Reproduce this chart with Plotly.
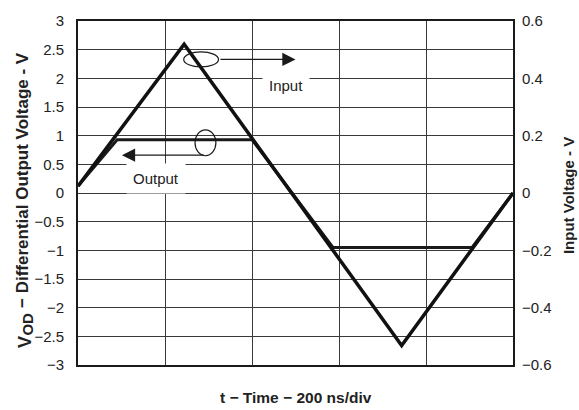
import plotly.graph_objects as go

# Time axis: 0..1000 ns, 200 ns per division
time_input = [0, 244, 744, 1000]            # ns, triangle vertices
input_v = [0.024, 0.519, -0.532, 0.0]       # V (right axis)

time_output = [0, 90, 400, 586, 906, 1000]  # ns
output_v = [0.12, 0.93, 0.93, -0.95, -0.95, 0.0]  # V (left axis)

left_ticks = [-3, -2.5, -2, -1.5, -1, -0.5, 0, 0.5, 1, 1.5, 2, 2.5, 3]
right_ticks = [-0.6, -0.4, -0.2, 0, 0.2, 0.4, 0.6]
x_grid = [0, 200, 400, 600, 800, 1000]


def fmt(v):
    s = ("%g" % v)
    return s.replace("-", "\u2212")


FONT = "Liberation Sans, Arial, sans-serif"
GRID = "#3a3a3a"
TXT = "#222222"

fig = go.Figure()

fig.add_trace(go.Scatter(
    x=time_input, y=input_v, yaxis="y2", mode="lines",
    line=dict(color="#111111", width=3.5), name="Input", showlegend=False))
fig.add_trace(go.Scatter(
    x=time_output, y=output_v, mode="lines",
    line=dict(color="#1a1a1a", width=3), name="Output", showlegend=False))

fig.update_layout(
    width=579, height=410,
    margin=dict(l=78, r=66, t=15, b=45),
    paper_bgcolor="white", plot_bgcolor="white",
    font=dict(family=FONT, size=15, color=TXT),
    xaxis=dict(
        range=[0, 1000], tickvals=x_grid, showticklabels=False,
        showgrid=True, gridcolor=GRID, gridwidth=1, zeroline=False,
        showline=True, linecolor="#1a1a1a", linewidth=2, mirror=True,
        ticks=""),
    yaxis=dict(
        range=[-3, 3], tickvals=left_ticks, ticktext=[fmt(v) for v in left_ticks],
        showgrid=True, gridcolor=GRID, gridwidth=1, zeroline=False,
        showline=True, linecolor="#1a1a1a", linewidth=2, mirror=True,
        ticks="", ticklabelstandoff=9),
    yaxis2=dict(
        range=[-0.6, 0.6], overlaying="y", side="right",
        tickvals=right_ticks, ticktext=[fmt(v) for v in right_ticks],
        showgrid=False, zeroline=False, showline=False,
        ticks="", ticklabelstandoff=8),
)

# Ellipses marking which trace is which
fig.add_shape(type="circle", xref="x", yref="y",
              x0=243, x1=323, y0=2.20, y1=2.46,
              line=dict(color="#1a1a1a", width=1.2))
fig.add_shape(type="circle", xref="x", yref="y",
              x0=269, x1=317, y0=0.65, y1=1.10,
              line=dict(color="#1a1a1a", width=1.2))

# Pointer arrows
fig.add_annotation(x=500, y=2.33, ax=324, ay=2.33, xref="x", yref="y",
                   axref="x", ayref="y", text="", showarrow=True,
                   arrowhead=2, arrowsize=2.2, arrowwidth=1.2,
                   arrowcolor="#1a1a1a")
fig.add_annotation(x=101, y=0.66, ax=292, ay=0.66, xref="x", yref="y",
                   axref="x", ayref="y", text="", showarrow=True,
                   arrowhead=2, arrowsize=2.2, arrowwidth=1.2,
                   arrowcolor="#1a1a1a")

# Labels with white boxes over the grid
fig.add_annotation(x=478, y=1.88, xref="x", yref="y", text="Input",
                   showarrow=False, bgcolor="white", borderpad=6,
                   font=dict(size=15, color=TXT))
fig.add_annotation(x=180, y=0.26, xref="x", yref="y", text="Output",
                   showarrow=False, bgcolor="white", borderpad=6,
                   font=dict(size=15, color=TXT))

# Left axis title, built from three pieces: V, subscript OD, remainder
fig.add_annotation(x=-0.1218, y=0.067, xref="paper", yref="paper",
                   xanchor="center", yanchor="middle",
                   text="<b>V</b>", textangle=-90, showarrow=False,
                   font=dict(size=18, color=TXT))
fig.add_annotation(x=-0.1161, y=0.119, xref="paper", yref="paper",
                   xanchor="center", yanchor="middle",
                   text="<b>OD</b>", textangle=-90, showarrow=False,
                   font=dict(size=15, color=TXT))
fig.add_annotation(x=-0.1264, y=0.16, xref="paper", yref="paper",
                   xanchor="center", yanchor="bottom",
                   text="<b>\u2212 Differential Output Voltage - V</b>",
                   textangle=-90, showarrow=False,
                   font=dict(size=17, color=TXT))

fig.add_annotation(x=1.1264, y=0.494, xref="paper", yref="paper",
                   xanchor="center", yanchor="middle",
                   text="<b>Input Voltage - V</b>", textangle=-90,
                   showarrow=False, font=dict(size=15, color=TXT))
fig.add_annotation(x=0.5, y=-0.094, xref="paper", yref="paper",
                   xanchor="center", yanchor="middle",
                   text="<b>t \u2212 Time \u2212 200 ns/div</b>",
                   showarrow=False, font=dict(size=15.5, color=TXT))

fig.write_html("out.html")
